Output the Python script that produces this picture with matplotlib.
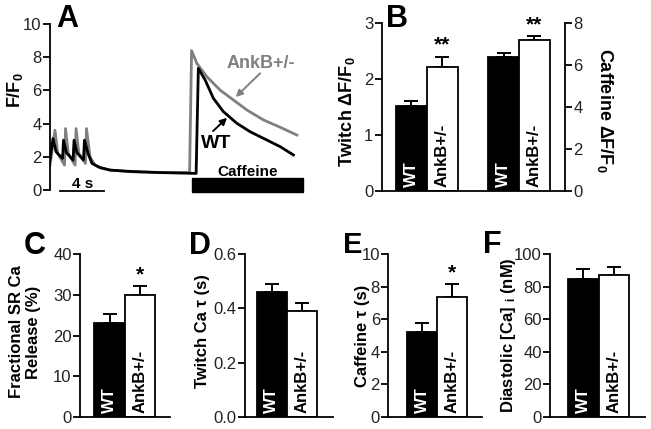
import matplotlib
matplotlib.use("Agg")
import numpy as np
from matplotlib import pyplot as plt
from matplotlib import transforms

plt.rcParams["font.family"] = ["Liberation Sans", "DejaVu Sans"]
plt.rcParams["mathtext.fontset"] = "custom"
plt.rcParams["mathtext.rm"] = "Liberation Sans"
plt.rcParams["mathtext.default"] = "regular"

# ---- panel A traces (time in s, F/F0) ----
wt_t = [0.0, 0.27, 0.55, 1.13, 1.22, 1.48, 2.08, 2.17, 2.43, 3.02, 3.11, 3.43, 3.79,
        4.51, 5.42, 7.22, 9.93, 13.18, 13.38, 13.99, 14.74, 15.64, 16.85, 18.05,
        19.56, 20.76, 21.96]
wt_f = [1.8, 3.1, 2.3, 1.9, 3.0, 2.25, 1.8, 3.0, 2.25, 1.8, 3.0, 2.2, 1.6,
        1.35, 1.2, 1.12, 1.05, 1.0, 7.33, 6.63, 5.52, 4.72, 4.02, 3.51,
        3.01, 2.61, 2.11]
ank_t = [0.0, 0.45, 0.7, 1.31, 1.40, 1.65, 2.26, 2.35, 2.6, 3.20, 3.29, 3.61, 4.06,
         4.51, 5.42, 7.22, 9.93, 12.59, 12.77, 13.24, 14.14, 15.34, 16.55, 17.76,
         19.25, 20.76, 22.27]
ank_f = [1.5, 3.6, 2.2, 1.5, 3.7, 2.2, 1.5, 3.7, 2.2, 1.6, 3.7, 2.0, 1.5,
         1.35, 1.2, 1.1, 1.05, 1.05, 8.4, 7.63, 6.83, 6.02, 5.42, 4.82,
         4.22, 3.78, 3.31]
caffeine_on = [12.82, 22.83]

groups = ["WT", "AnkB+/-"]
twitch_mean = [1.52, 2.21]
twitch_err = [0.09, 0.19]
caff_amp_mean = [6.4, 7.2]
caff_amp_err = [0.2, 0.19]
frac_mean = [23, 30]
frac_err = [2.2, 2.1]
twitch_tau_mean = [0.462, 0.39]
twitch_tau_err = [0.028, 0.03]
caff_tau_mean = [5.2, 7.4]
caff_tau_err = [0.6, 0.8]
diast_mean = [85, 87]
diast_err = [6, 5]

W, H = 651, 429
fig = plt.figure(figsize=(W / 100, H / 100), dpi=100)
LAB = 12


def px_axes(x0, y0, x1, y1):
    return fig.add_axes([x0 / W, 1 - y1 / H, (x1 - x0) / W, (y1 - y0) / H])


def style(ax):
    for s in ["top", "right"]:
        ax.spines[s].set_visible(False)
    for s in ["left", "bottom"]:
        ax.spines[s].set_linewidth(1.3)
    ax.tick_params(axis="y", direction="out", length=5, width=1.3, labelsize=12, pad=1,
                   labelcolor="#222222")
    ax.set_xticks([])


def fig_text(x, y, s, **kw):
    fig.text(x / W, 1 - y / H, s, **kw)


def bars(ax, pos, means, errs):
    colors = ["black", "white"]
    ax.bar(pos, means, width=1.0, color=colors, edgecolor="black", linewidth=1.3, zorder=2)
    ax.errorbar(pos, means, yerr=[[0, 0], errs], fmt="none", ecolor="black",
                elinewidth=1.4, capsize=5, capthick=1.4, zorder=1)
    tr = transforms.blended_transform_factory(ax.transData, ax.transAxes)
    ax.text(pos[0], 0.02, groups[0], rotation=90, ha="center", va="bottom",
            color="white", fontsize=12, fontweight="bold", transform=tr)
    ax.text(pos[1], 0.02, groups[1], rotation=90, ha="center", va="bottom",
            color="black", fontsize=12, fontweight="bold", transform=tr)


# ---- A ----
axA = px_axes(50, 24, 305, 190)
axA.plot(ank_t, ank_f, color="#808080", lw=2)
axA.plot(wt_t, wt_f, color="black", lw=2)
axA.set_xlim(0, 23.0)
axA.set_ylim(0, 10)
axA.set_yticks([0, 2, 4, 6, 8, 10])
style(axA)
axA.spines["bottom"].set_visible(False)
axA.add_patch(plt.Rectangle((caffeine_on[0], -0.12), caffeine_on[1] - caffeine_on[0], 0.84,
                            color="black", clip_on=False))
axA.text(sum(caffeine_on) / 2, 1.1, "Caffeine", ha="center", va="center",
         fontsize=11, fontweight="bold")
axA.plot([0.9, 4.9], [-0.06, -0.06], color="black", lw=1.3, clip_on=False)
axA.text(2.9, 0.35, "4 s", ha="center", va="center", fontsize=11, fontweight="bold")
axA.text(15.0, 2.83, "WT", ha="center", va="center", fontsize=14, fontweight="bold")
axA.annotate("", xy=(15.97, 4.35), xytext=(14.71, 3.55),
             arrowprops=dict(arrowstyle="-|>", color="black", lw=1.4, shrinkA=0, shrinkB=0))
axA.text(19.04, 7.63, "AnkB+/-", ha="center", va="center", fontsize=13,
         fontweight="bold", color="#808080")
axA.annotate("", xy=(16.75, 5.6), xytext=(18.95, 7.03),
             arrowprops=dict(arrowstyle="-|>", color="#808080", lw=1.4, shrinkA=0, shrinkB=0))
fig_text(15, 90, "F/F$_0$", rotation=90, ha="center", va="center", fontsize=13, fontweight="bold")
fig_text(67, 19, "A", ha="center", va="center", fontsize=22, fontweight="bold")

# ---- B ----
axB = px_axes(381.7, 23.3, 565, 190.7)
style(axB)
axB.set_xlim(0.03, 6.0)
axB.set_ylim(0, 3)
axB.set_yticks([0, 1, 2, 3])
bars(axB, [1, 2], twitch_mean, twitch_err)
axB2 = axB.twinx()
axB2.set_ylim(0, 8)
axB2.set_yticks([0, 2, 4, 6, 8])
for s in ["top", "left", "bottom"]:
    axB2.spines[s].set_visible(False)
axB2.spines["right"].set_linewidth(1.3)
axB2.tick_params(axis="y", direction="out", length=5, width=1.3, labelsize=12, pad=1,
                 labelcolor="#222222")
bars(axB2, [4, 5], caff_amp_mean, caff_amp_err)
axB.text(2, twitch_mean[1] + twitch_err[1] + 0.05, "**", ha="center", va="bottom",
         fontsize=15, fontweight="bold")
axB2.text(5, caff_amp_mean[1] + caff_amp_err[1] + 0.1, "**", ha="center", va="bottom",
          fontsize=15, fontweight="bold")
fig_text(347, 112, "Twitch ΔF/F$_0$", rotation=90, ha="center", va="center",
         fontsize=13, fontweight="bold")
fig_text(605, 110, "Caffeine ΔF/F$_0$", rotation=270, ha="center", va="center",
         fontsize=13, fontweight="bold")
fig_text(397, 19, "B", ha="center", va="center", fontsize=22, fontweight="bold")

# ---- C ----
axC = px_axes(80, 254.3, 170, 416.7)
style(axC)
axC.set_xlim(0.03, 2.98)
axC.set_ylim(0, 40)
axC.set_yticks([0, 10, 20, 30, 40])
bars(axC, [1, 2], frac_mean, frac_err)
axC.text(2, frac_mean[1] + frac_err[1] + 0.5, "*", ha="center", va="bottom",
         fontsize=15, fontweight="bold")
fig_text(25, 332, "Fractional SR Ca\nRelease (%)", rotation=90, ha="center", va="center",
         fontsize=LAB, fontweight="bold", linespacing=1.15)
fig_text(35, 246, "C", ha="center", va="center", fontsize=22, fontweight="bold")

# ---- D ----
axD = px_axes(245, 254.3, 333, 416.7)
style(axD)
axD.set_xlim(0.11, 3.04)
axD.set_ylim(0, 0.6)
axD.set_yticks([0.0, 0.2, 0.4, 0.6])
axD.set_yticklabels(["0.0", "0.2", "0.4", "0.6"])
bars(axD, [1, 2], twitch_tau_mean, twitch_tau_err)
fig_text(202, 331, "Twitch Ca τ (s)", rotation=90, ha="center", va="center",
         fontsize=LAB, fontweight="bold")
fig_text(200, 246, "D", ha="center", va="center", fontsize=22, fontweight="bold")

# ---- E ----
axE = px_axes(388.3, 254.3, 482, 416.7)
style(axE)
axE.set_xlim(-0.13, 2.99)
axE.set_ylim(0, 10)
axE.set_yticks([0, 2, 4, 6, 8, 10])
bars(axE, [1, 2], caff_tau_mean, caff_tau_err)
axE.text(2, caff_tau_mean[1] + caff_tau_err[1] + 0.1, "*", ha="center", va="bottom",
         fontsize=15, fontweight="bold")
fig_text(362, 336, "Caffeine τ (s)", rotation=90, ha="center", va="center",
         fontsize=LAB, fontweight="bold")
fig_text(353, 245, "E", ha="center", va="center", fontsize=21, fontweight="bold")

# ---- F ----
axF = px_axes(550, 254.3, 645, 416.7)
style(axF)
axF.set_xlim(-0.09, 3.02)
axF.set_ylim(0, 100)
axF.set_yticks([0, 20, 40, 60, 80, 100])
bars(axF, [1, 2], diast_mean, diast_err)
fig_text(509, 335, "Diastolic [Ca] $_{i}$ (nM)", rotation=90, ha="center", va="center",
         fontsize=LAB, fontweight="bold")
fig_text(492, 245, "F", ha="center", va="center", fontsize=22, fontweight="bold")

fig.savefig("out.png", dpi=100)
